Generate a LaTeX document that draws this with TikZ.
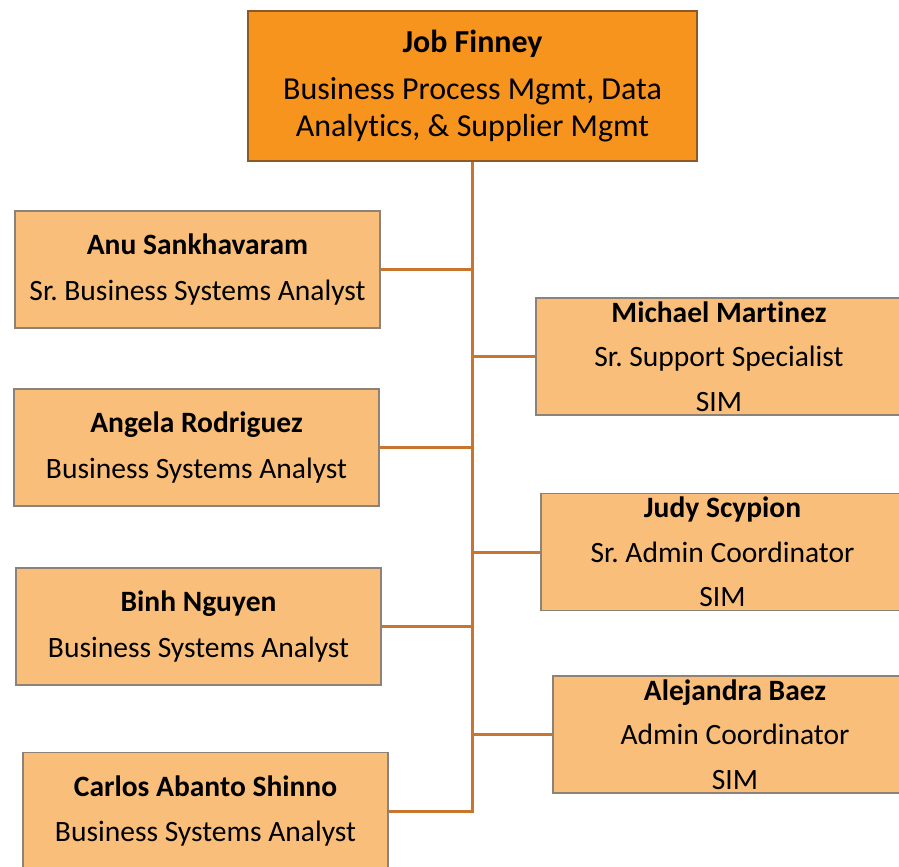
\documentclass[tikz,border=0pt]{standalone}
\usepackage{fontspec}
\setmainfont{Carlito}[Ligatures=NoCommon]
\frenchspacing
\definecolor{headfill}{RGB}{247,148,30}
\definecolor{headedge}{RGB}{140,90,40}
\definecolor{stafffill}{RGB}{249,190,122}
\definecolor{staffedge}{RGB}{140,130,120}
\definecolor{linkcol}{RGB}{200,117,45}
\tikzset{
  staff/.style={draw=staffedge,line width=0.8pt,fill=stafffill,align=center,inner sep=0pt,
    minimum width=7.3cm,minimum height=2.34cm,font=\fontsize{16.8}{20.3}\selectfont},
  head/.style={staff,draw=headedge,fill=headfill,minimum width=8.98cm,minimum height=3cm,
    font=\fontsize{18.2}{20.6}\selectfont},
  link/.style={draw=linkcol,line width=1.7pt}
}
\begin{document}
\begin{tikzpicture}[x=0.02cm,y=-0.02cm]
\useasboundingbox (0,0) rectangle (899,866);
% manager
\node[head] (boss) at (472.5,86) {\textbf{Job Finney}\\[6.2pt]Business Process Mgmt, Data\\Analytics, \& Supplier Mgmt};
% left column
\node[staff] (anu) at (197.5,269.5) {\textbf{Anu Sankhavaram}\\[5.4pt]Sr.\ Business Systems Analyst};
\node[staff] (angela) at (196.5,447.5) {\textbf{Angela Rodriguez}\\[5.4pt]Business Systems Analyst};
\node[staff] (binh) at (198.5,626.5) {\textbf{Binh Nguyen}\\[5.4pt]Business Systems Analyst};
\node[staff] (carlos) at (205.5,811) {\textbf{Carlos Abanto Shinno}\\[5.4pt]Business Systems Analyst};
% right column
\node[staff,minimum width=7.32cm] (michael) at (719,356.5) {\textbf{Michael Martinez}\\[5pt]Sr.\ Support Specialist\\[5pt]SIM};
\node[staff,minimum width=7.26cm] (judy) at (722.5,552) {\textbf{Judy Scypion}\\[5pt]Sr.\ Admin Coordinator\\[5pt]SIM};
\node[staff,minimum width=7.28cm] (alejandra) at (735,734.5) {\textbf{Alejandra Baez}\\[5pt]Admin Coordinator\\[5pt]SIM};
% connectors
\draw[link] (boss.south) -- (boss.south |- carlos.east) -- (carlos.east);
\foreach \n in {anu,angela,binh,michael,judy,alejandra}
  \draw[link] (\n) -- (\n -| boss.south);
\end{tikzpicture}
\end{document}
